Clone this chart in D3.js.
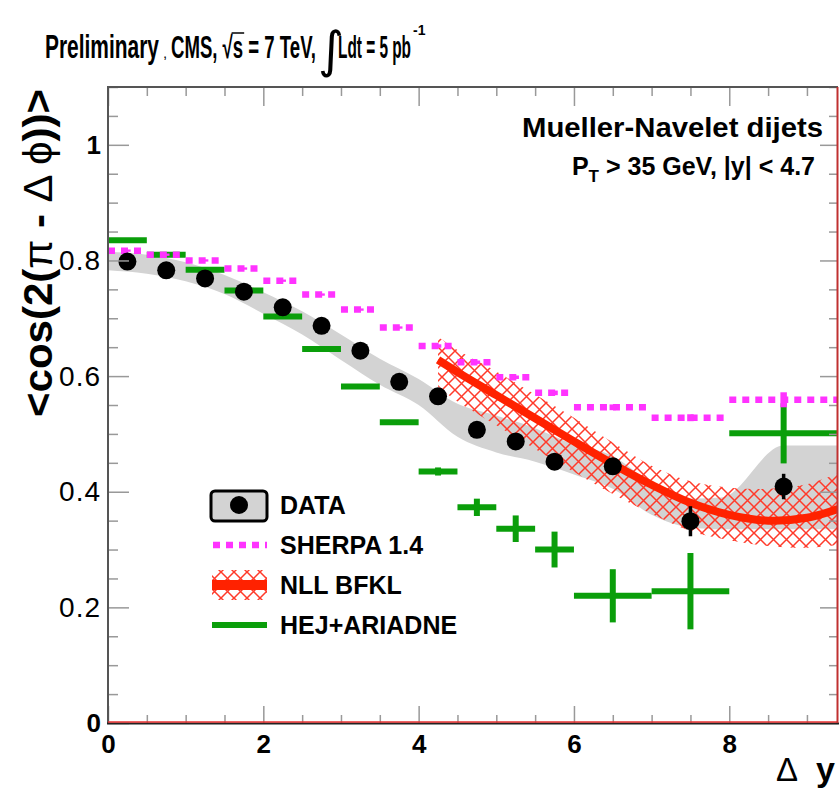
<!DOCTYPE html>
<html>
<head>
<script src="https://cdn.jsdelivr.net/npm/d3@7"></script>
<style>
  body { margin: 0; background: #fff; }
  text { font-family: "Liberation Sans", Arial, Helvetica, sans-serif; }
</style>
</head>
<body>
<script>

// ---- data ----

// histogram bins (delta y)
var binLo = [0, 0.5, 1, 1.5, 2, 2.5, 3, 3.5, 4, 4.5, 5, 5.5, 6, 7, 8];
var binHi = [0.5, 1, 1.5, 2, 2.5, 3, 3.5, 4, 4.5, 5, 5.5, 6, 7, 8, 9.4];
var binCenter = [0.25, 0.75, 1.25, 1.75, 2.25, 2.75, 3.25, 3.75, 4.25, 4.75, 5.25, 5.75, 6.5, 7.5, 8.7];

// CMS data
var dataY   = [0.798, 0.783, 0.769, 0.746, 0.719, 0.687, 0.644, 0.590, 0.565, 0.507, 0.487, 0.452, 0.444, 0.349, 0.409];
var dataErr = [0.004, 0.004, 0.004, 0.004, 0.004, 0.004, 0.005, 0.005, 0.006, 0.006, 0.007, 0.008, 0.012, 0.026, 0.022];

// systematic band around data
var bandX  = [0, 0.5, 1, 1.5, 2, 2.5, 3, 3.5, 4, 4.5, 5, 5.5, 6, 6.5, 7, 7.5, 7.9, 8.7, 9.4];
var bandHi = [0.815, 0.810, 0.797, 0.775, 0.745, 0.712, 0.672, 0.630, 0.595, 0.552, 0.532, 0.510, 0.482, 0.462, 0.415, 0.388, 0.390, 0.480, 0.480];
var bandLo = [0.783, 0.777, 0.764, 0.742, 0.708, 0.672, 0.628, 0.585, 0.550, 0.495, 0.468, 0.452, 0.430, 0.405, 0.360, 0.338, 0.335, 0.335, 0.335];

// SHERPA 1.4
var sherpaY   = [0.817, 0.810, 0.800, 0.786, 0.765, 0.741, 0.715, 0.684, 0.652, 0.624, 0.598, 0.571, 0.546, 0.528, 0.559];
var sherpaErr = [0.002, 0.002, 0.002, 0.002, 0.002, 0.002, 0.002, 0.002, 0.003, 0.003, 0.003, 0.004, 0.005, 0.006, 0.013];

// HEJ+ARIADNE
var hejY   = [0.835, 0.810, 0.784, 0.748, 0.703, 0.647, 0.582, 0.520, 0.435, 0.373, 0.336, 0.300, 0.220, 0.228, 0.501];
var hejErr = [0.002, 0.002, 0.002, 0.002, 0.002, 0.002, 0.003, 0.003, 0.007, 0.015, 0.023, 0.031, 0.046, 0.066, 0.052];

// NLL BFKL curve and its uncertainty
var bfklX  = [4.25, 4.5, 5, 5.5, 6, 6.5, 7, 7.5, 8, 8.5, 9, 9.4];
var bfklY  = [0.628, 0.607, 0.567, 0.527, 0.487, 0.448, 0.412, 0.381, 0.360, 0.350, 0.355, 0.370];
var bfklHi = [0.668, 0.645, 0.608, 0.568, 0.528, 0.485, 0.445, 0.418, 0.407, 0.405, 0.413, 0.432];
var bfklLo = [0.582, 0.556, 0.515, 0.474, 0.434, 0.396, 0.362, 0.332, 0.316, 0.306, 0.303, 0.308];

var xMajor = [0, 2, 4, 6, 8];
var yMajor = [0, 0.2, 0.4, 0.6, 0.8, 1];

var legendLabels = ["DATA", "SHERPA 1.4", "NLL BFKL", "HEJ+ARIADNE"];

// ---- style ----
var magenta = "#ff33ff";
var green   = "#0a9e0a";
var red     = "#ff2200";
var band    = "#d3d3d3";

var svg = d3.select('body').append('svg')
	.attr('width', 840)
	.attr('height', 790)
	.style('background-color', 'white');

var x = d3.scaleLinear().domain([0, 9.4]).range([108, 838]);
var y = d3.scaleLinear().domain([0, 1.1]).range([723, 87]);

// hatch pattern for the BFKL band
var pat = svg.append('defs').append('pattern')
	.attr('id', 'hatch')
	.attr('patternUnits', 'userSpaceOnUse')
	.attr('width', 13).attr('height', 13);
pat.append('path')
	.attr('d', 'M-1,-1L14,14M14,-1L-1,14')
	.attr('stroke', '#ff3a2a')
	.attr('stroke-width', 1.5)
	.attr('fill', 'none');

svg.append('clipPath').attr('id', 'plotclip')
	.append('rect').attr('x', 108).attr('y', 87).attr('width', 730).attr('height', 636);

var plot = svg.append('g').attr('clip-path', 'url(#plotclip)');

// grey data systematic band
plot.append('path')
	.datum(bandX.map(function(d, i) { return [d, bandLo[i], bandHi[i]]; }))
	.attr('d', d3.area()
		.x(function(d) { return x(d[0]); })
		.y0(function(d) { return y(d[1]); })
		.y1(function(d) { return y(d[2]); })
		.curve(d3.curveMonotoneX))
	.attr('fill', band);

// BFKL hatched band + line
plot.append('path')
	.datum(bfklX.map(function(d, i) { return [d, bfklLo[i], bfklHi[i]]; }))
	.attr('d', d3.area()
		.x(function(d) { return x(d[0]); })
		.y0(function(d) { return y(d[1]); })
		.y1(function(d) { return y(d[2]); })
		.curve(d3.curveCatmullRom))
	.attr('fill', 'url(#hatch)');

plot.append('path')
	.datum(bfklX.map(function(d, i) { return [d, bfklY[i]]; }))
	.attr('d', d3.line()
		.x(function(d) { return x(d[0]); })
		.y(function(d) { return y(d[1]); })
		.curve(d3.curveCatmullRom))
	.attr('fill', 'none')
	.attr('stroke', red)
	.attr('stroke-width', 8);

// HEJ+ARIADNE
var hej = plot.append('g').attr('stroke', green).attr('stroke-width', 6);
binLo.forEach(function(lo, i) {
	hej.append('line')
		.attr('x1', x(lo)).attr('x2', x(binHi[i]))
		.attr('y1', y(hejY[i])).attr('y2', y(hejY[i]));
	hej.append('line')
		.attr('x1', x(binCenter[i])).attr('x2', x(binCenter[i]))
		.attr('y1', y(hejY[i] - hejErr[i])).attr('y2', y(hejY[i] + hejErr[i]));
});

// SHERPA
var sh = plot.append('g').attr('stroke', magenta).attr('stroke-width', 6.5);
binLo.forEach(function(lo, i) {
	sh.append('line')
		.attr('x1', x(lo)).attr('x2', x(binHi[i]))
		.attr('y1', y(sherpaY[i])).attr('y2', y(sherpaY[i]))
		.attr('stroke-dasharray', '7,6');
	sh.append('line')
		.attr('x1', x(binCenter[i])).attr('x2', x(binCenter[i]))
		.attr('y1', y(sherpaY[i] - sherpaErr[i])).attr('y2', y(sherpaY[i] + sherpaErr[i]));
});

// DATA
var dat = plot.append('g');
binCenter.forEach(function(cx, i) {
	dat.append('line')
		.attr('x1', x(cx)).attr('x2', x(cx))
		.attr('y1', y(dataY[i] - dataErr[i])).attr('y2', y(dataY[i] + dataErr[i]))
		.attr('stroke', 'black').attr('stroke-width', 3.5);
	dat.append('circle')
		.attr('cx', x(cx)).attr('cy', y(dataY[i]))
		.attr('r', 9).attr('fill', 'black');
});

// ---- axes ----
function tickStyle(g) {
	g.select('.domain').remove();
	g.selectAll('.tick line').attr('stroke', '#999').attr('stroke-width', 1.5);
}
var xMinor = d3.range(0, 9.41, 0.5).filter(function(v) { return v % 2 !== 0; });
var yMinor = d3.range(0, 1.101, 0.05).map(function(v) { return +v.toFixed(2); })
	.filter(function(v) { return Math.abs(v * 5 - Math.round(v * 5)) > 1e-6; });

svg.append('g').attr('transform', 'translate(0,723)')
	.call(d3.axisBottom(x).tickValues(xMinor).tickSize(-8).tickFormat('')).call(tickStyle);
svg.append('g').attr('transform', 'translate(0,723)')
	.call(d3.axisBottom(x).tickValues(xMajor).tickSize(-17).tickPadding(12).tickFormat(d3.format('d')))
	.call(tickStyle)
	.selectAll('text')
	.attr('fill', 'black').style('font-size', '26px').style('font-weight', 'bold');

svg.append('g').attr('transform', 'translate(0,87)')
	.call(d3.axisTop(x).tickValues(xMinor).tickSize(-9).tickFormat('')).call(tickStyle);
svg.append('g').attr('transform', 'translate(0,87)')
	.call(d3.axisTop(x).tickValues(xMajor).tickSize(-19).tickFormat('')).call(tickStyle);

svg.append('g').attr('transform', 'translate(108,0)')
	.call(d3.axisLeft(y).tickValues(yMinor).tickSize(-10).tickFormat('')).call(tickStyle);
svg.append('g').attr('transform', 'translate(108,0)')
	.call(d3.axisLeft(y).tickValues(yMajor).tickSize(-21).tickPadding(7)
		.tickFormat(function(d) { return d === 0 || d === 1 ? d3.format('d')(d) : d3.format('.1f')(d); }))
	.call(tickStyle)
	.selectAll('text')
	.attr('fill', 'black')
	.style('font-size', function(d) { return (d === 0 || d === 1) ? '26px' : '28px'; })
	.style('font-weight', function(d) { return (d === 0 || d === 1) ? 'bold' : 'normal'; })
	.style('letter-spacing', function(d) { return (d === 0 || d === 1) ? '0px' : '1px'; });

svg.append('g').attr('transform', 'translate(838,0)')
	.call(d3.axisRight(y).tickValues(yMinor).tickSize(-9).tickFormat('')).call(tickStyle);
svg.append('g').attr('transform', 'translate(838,0)')
	.call(d3.axisRight(y).tickValues(yMajor).tickSize(-18).tickFormat('')).call(tickStyle);

// frame
svg.append('line').attr('x1', 108).attr('x2', 108).attr('y1', 86).attr('y2', 724)
	.attr('stroke', '#555').attr('stroke-width', 2);
svg.append('line').attr('x1', 107).attr('x2', 838).attr('y1', 87).attr('y2', 87)
	.attr('stroke', '#555').attr('stroke-width', 2);
svg.append('line').attr('x1', 107).attr('x2', 839).attr('y1', 723.5).attr('y2', 723.5)
	.attr('stroke', '#222').attr('stroke-width', 2);
svg.append('line').attr('x1', 108).attr('x2', 838).attr('y1', 722).attr('y2', 722)
	.attr('stroke', '#e83030').attr('stroke-width', 1.5);
svg.append('line').attr('x1', 837.5).attr('x2', 837.5).attr('y1', 87).attr('y2', 723)
	.attr('stroke', '#c03030').attr('stroke-width', 2);

// ---- axis titles ----
var ylab = svg.append('text')
	.attr('transform', 'translate(52,253) rotate(-90)')
	.attr('text-anchor', 'middle')
	.attr('textLength', 328)
	.attr('lengthAdjust', 'spacingAndGlyphs')
	.style('font-size', '40px')
	.style('font-weight', 'bold');
ylab.append('tspan').text('<cos(2(');
ylab.append('tspan').style('font-weight', 'normal').text('π');
ylab.append('tspan').text(' - ');
ylab.append('tspan').style('font-weight', 'normal').text('Δ ϕ');
ylab.append('tspan').text('))>');

svg.append('text').attr('x', 776).attr('y', 781)
	.style('font-size', '33px').text('Δ');
svg.append('text').attr('x', 816).attr('y', 781)
	.style('font-size', '34px').style('font-weight', 'bold').text('y');

// ---- header ----
svg.append('text').attr('x', 45).attr('y', 58)
	.attr('textLength', 114).attr('lengthAdjust', 'spacingAndGlyphs')
	.style('font-size', '34px').style('font-weight', 'bold').text('Preliminary');
svg.append('text').attr('x', 163).attr('y', 58)
	.style('font-size', '15px').text(',');
var cmsText = 'CMS, √s = 7 TeV,';
var cms = svg.append('text').attr('x', 171).attr('y', 58)
	.attr('textLength', 145).attr('lengthAdjust', 'spacingAndGlyphs')
	.style('font-size', '31px').style('font-weight', 'bold').text(cmsText);
// bar of the square root over the s
var sIdx = cmsText.indexOf('s');
var sStart = cms.node().getStartPositionOfChar(sIdx - 1);
var sEnd = cms.node().getEndPositionOfChar(sIdx);
svg.append('line')
	.attr('x1', sStart.x + 9).attr('x2', sEnd.x + 1)
	.attr('y1', 33).attr('y2', 33)
	.attr('stroke', 'black').attr('stroke-width', 1.5);
svg.append('text').attr('x', 318).attr('y', 67)
	.style('font-family', '"DejaVu Sans", sans-serif')
	.style('font-size', '50px').text('∫');
svg.append('text').attr('x', 338).attr('y', 58)
	.attr('textLength', 73).attr('lengthAdjust', 'spacingAndGlyphs')
	.style('font-size', '31px').style('font-weight', 'bold').text('Ldt = 5 pb');
svg.append('text').attr('x', 413).attr('y', 35)
	.style('font-size', '14px').style('font-weight', 'bold').text('-1');

// ---- top-right label ----
svg.append('text').attr('x', 823).attr('y', 137)
	.attr('text-anchor', 'end')
	.attr('textLength', 301).attr('lengthAdjust', 'spacingAndGlyphs')
	.style('font-size', '28px').style('font-weight', 'bold')
	.text('Mueller-Navelet dijets');
var pt = svg.append('text').attr('x', 815).attr('y', 175)
	.attr('text-anchor', 'end')
	.style('font-size', '25px').style('font-weight', 'bold');
pt.append('tspan').text('P');
pt.append('tspan').attr('dy', 7).style('font-size', '17px').text('T');
pt.append('tspan').attr('dy', -7).text(' > 35 GeV, |y| < 4.7');

// ---- legend ----
var legY = [505, 545, 585, 625];
var leg = svg.append('g');

// DATA: grey box with dot
leg.append('rect').attr('x', 211).attr('y', 491).attr('width', 56).attr('height', 30)
	.attr('rx', 4).attr('fill', band).attr('stroke', 'black').attr('stroke-width', 3);
leg.append('circle').attr('cx', 239).attr('cy', legY[0]).attr('r', 9).attr('fill', 'black');

// SHERPA
leg.append('line').attr('x1', 213).attr('x2', 267).attr('y1', legY[1]).attr('y2', legY[1])
	.attr('stroke', magenta).attr('stroke-width', 6.5).attr('stroke-dasharray', '7,6');

// NLL BFKL
leg.append('rect').attr('x', 212).attr('y', legY[2] - 15).attr('width', 55).attr('height', 30)
	.attr('fill', 'url(#hatch)');
leg.append('line').attr('x1', 212).attr('x2', 267).attr('y1', legY[2]).attr('y2', legY[2])
	.attr('stroke', red).attr('stroke-width', 10);

// HEJ
leg.append('line').attr('x1', 212).attr('x2', 267).attr('y1', legY[3]).attr('y2', legY[3])
	.attr('stroke', green).attr('stroke-width', 6);

leg.selectAll('text.lab').data(legendLabels).enter().append('text')
	.attr('class', 'lab')
	.attr('x', 280)
	.attr('y', function(d, i) { return legY[i] + 9; })
	.style('font-size', '25px').style('font-weight', 'bold')
	.text(function(d) { return d; });

</script>
</body>
</html>
